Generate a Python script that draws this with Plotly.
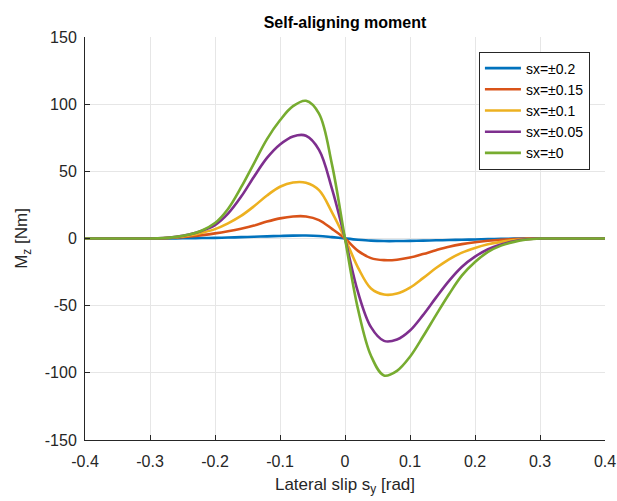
import plotly.graph_objects as go

slip = [-0.4, -0.32, -0.30, -0.28, -0.26, -0.24, -0.22, -0.20, -0.18, -0.16, -0.14,
        -0.12, -0.10, -0.08, -0.06, -0.04, -0.02, 0.0, 0.02, 0.04, 0.06, 0.08,
        0.10, 0.12, 0.14, 0.16, 0.18, 0.20, 0.22, 0.24, 0.26, 0.28, 0.30, 0.32, 0.4]

mz_02 = [0, 0, 0, 0.05, 0.1, 0.2, 0.35, 0.5, 0.7, 1.0, 1.3,
         1.6, 1.9, 2.15, 2.2, 1.9, 1.0, 0, -0.9, -1.6, -1.9, -1.9,
         -1.75, -1.55, -1.35, -1.15, -0.95, -0.7, -0.45, -0.25, -0.1, -0.03, 0, 0, 0]
mz_015 = [0, 0, 0, 0.2, 0.7, 1.5, 2.5, 3.8, 5.4, 7.3, 9.6,
          12.6, 15, 16.4, 16.4, 13.7, 7.2, 0, -9.2, -14.6, -16.1, -15.8,
          -14.2, -11.6, -8.7, -6.1, -4.2, -2.8, -1.7, -0.9, -0.4, -0.1, 0, 0, 0]
mz_01 = [0, 0, 0, 0.2, 0.9, 2.2, 4.3, 7, 11.3, 16.8, 24,
         32, 38.5, 41.7, 41.5, 36, 19.5, 0, -21.6, -37.2, -41.7, -41,
         -36.5, -29.5, -22, -15.5, -10.5, -7, -4.3, -2.5, -1.2, -0.4, 0, 0, 0]
mz_005 = [0, 0, 0, 0.3, 1.2, 3, 5.8, 10, 18.5, 31, 46,
          60, 70, 76, 76.5, 66, 37, 0, -40, -66, -76.2, -75.2,
          -68.5, -57, -44, -31.5, -21, -13.5, -8, -4.5, -2, -0.6, 0, 0, 0]
mz_0 = [0, 0, 0, 0.3, 1.2, 3, 6, 11.5, 22, 38, 56,
        74, 88, 98.5, 102.5, 93, 55, 0, -52.6, -87.3, -102, -98.5,
        -88, -73, -57, -41.5, -27.5, -17.5, -10, -5.3, -2.5, -0.8, 0, 0, 0]

series_names = ["sx=\u00b10.2", "sx=\u00b10.15", "sx=\u00b10.1", "sx=\u00b10.05", "sx=\u00b10"]
series_vals = [mz_02, mz_015, mz_01, mz_005, mz_0]
colors = ["#0072BD", "#D95319", "#EDB120", "#7E2F8E", "#77AC30"]

x_ticks = [-0.4, -0.3, -0.2, -0.1, 0, 0.1, 0.2, 0.3, 0.4]
x_ticklabels = ["-0.4", "-0.3", "-0.2", "-0.1", "0", "0.1", "0.2", "0.3", "0.4"]
y_ticks = [-150, -100, -50, 0, 50, 100, 150]
y_ticklabels = ["-150", "-100", "-50", "0", "50", "100", "150"]

fig = go.Figure()
for name, vals, c in zip(series_names, series_vals, colors):
    fig.add_trace(go.Scatter(x=slip, y=vals, mode="lines", name=name,
                             line=dict(color=c, width=2.6, shape="spline", smoothing=1.0)))

font_fam = "Liberation Sans, Arial, sans-serif"
dark = "#262626"

fig.update_layout(
    width=617, height=501,
    margin=dict(l=85, r=12, t=37, b=61, autoexpand=False),
    paper_bgcolor="white", plot_bgcolor="white",
    font=dict(family=font_fam, size=16, color=dark),
    title=dict(text="<b>Self-aligning moment</b>", x=345 / 617,
               xanchor="center", y=1 - 22 / 501, yanchor="middle",
               font=dict(size=16, color="#000000", family=font_fam)),
    showlegend=True,
    legend=dict(x=0.971, y=0.964, xanchor="right", yanchor="top",
                bgcolor="white", bordercolor=dark, borderwidth=1,
                font=dict(size=14, color="#000000", family=font_fam),
                itemwidth=36, tracegroupgap=0),
)

fig.update_xaxes(
    range=[-0.4, 0.4], tickmode="array", tickvals=x_ticks, ticktext=x_ticklabels,
    showgrid=True, gridcolor="#e6e6e6", gridwidth=1, zeroline=False,
    showline=True, linecolor=dark, linewidth=1, ticks="inside", ticklen=5,
    tickcolor=dark, mirror=False, automargin=False, ticklabelstandoff=7,
    tickfont=dict(size=16, color=dark),
    title=dict(text="Lateral slip s<sub>y</sub> [rad]", font=dict(size=17, color=dark), standoff=8),
)
fig.update_yaxes(
    range=[-150, 150], tickmode="array", tickvals=y_ticks, ticktext=y_ticklabels,
    showgrid=True, gridcolor="#e6e6e6", gridwidth=1, zeroline=False,
    showline=True, linecolor=dark, linewidth=1, ticks="inside", ticklen=5,
    tickcolor=dark, mirror=False, automargin=False, ticklabelstandoff=4,
    tickfont=dict(size=16, color=dark),
    title=dict(text="M<sub>z</sub> [Nm]", font=dict(size=17, color=dark), standoff=12),
)

fig.write_html("out.html")
